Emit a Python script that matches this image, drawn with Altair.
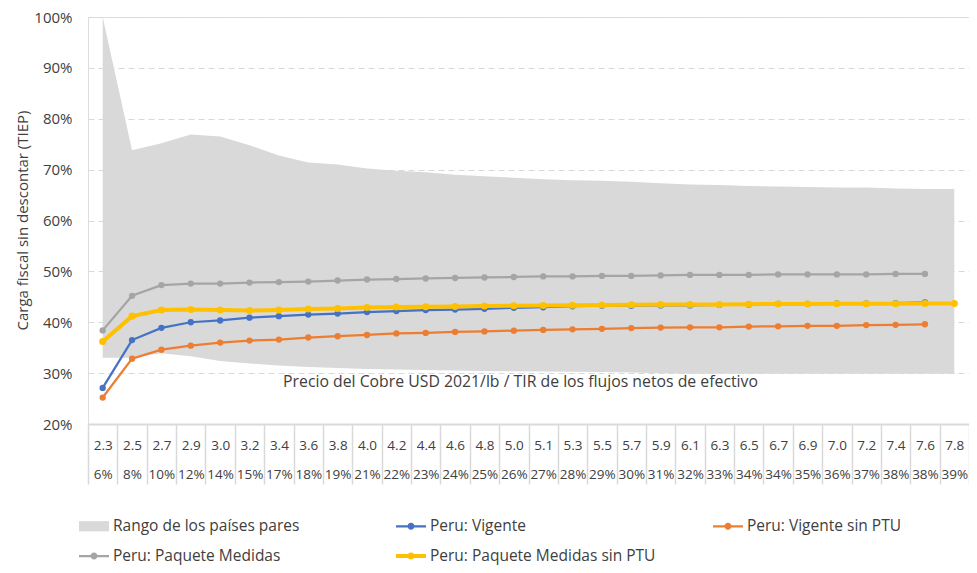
import altair as alt
import pandas as pd

# ---------------- data ----------------
precio = ["2.3", "2.5", "2.7", "2.9", "3.0", "3.2", "3.4", "3.6", "3.8", "4.0",
          "4.2", "4.4", "4.6", "4.8", "5.0", "5.1", "5.3", "5.5", "5.7", "5.9",
          "6.1", "6.3", "6.5", "6.7", "6.9", "7.0", "7.2", "7.4", "7.6", "7.8"]
tir = ["6%", "8%", "10%", "12%", "14%", "15%", "17%", "18%", "19%", "21%",
       "22%", "23%", "24%", "25%", "26%", "27%", "28%", "29%", "30%", "31%",
       "32%", "33%", "34%", "34%", "35%", "36%", "37%", "38%", "38%", "39%"]

rango_sup = [100.0, 73.8, 75.2, 76.9, 76.5, 74.8, 72.8, 71.4, 71.0, 70.2,
             69.8, 69.5, 69.0, 68.7, 68.4, 68.1, 67.9, 67.8, 67.6, 67.3,
             67.1, 67.0, 66.8, 66.7, 66.6, 66.5, 66.5, 66.3, 66.2, 66.2]
rango_inf = [33.0, 33.0, 33.9, 33.3, 32.4, 31.9, 31.5, 31.2, 31.0, 30.8,
             30.7, 30.6, 30.5, 30.4, 30.35, 30.3, 30.25, 30.2, 30.1, 30.0,
             29.9, 29.9, 29.9, 29.9, 29.9, 29.9, 29.9, 29.9, 29.9, 29.9]

vigente = [27.1, 36.5, 38.9, 40.0, 40.35, 40.9, 41.2, 41.5, 41.7, 42.0,
           42.2, 42.4, 42.5, 42.65, 42.85, 42.95, 43.15, 43.25, 43.25, 43.3,
           43.3, 43.4, 43.45, 43.6, 43.6, 43.7, 43.7, 43.75, 43.9, None]
vigente_sin_ptu = [25.2, 32.85, 34.6, 35.4, 36.0, 36.4, 36.6, 37.0, 37.25, 37.5,
                   37.8, 37.9, 38.1, 38.2, 38.35, 38.5, 38.6, 38.7, 38.85, 38.95,
                   39.0, 39.0, 39.15, 39.2, 39.3, 39.3, 39.45, 39.5, 39.6, None]
paquete = [38.4, 45.2, 47.3, 47.6, 47.6, 47.8, 47.9, 48.0, 48.2, 48.4,
           48.5, 48.6, 48.7, 48.8, 48.9, 49.0, 49.0, 49.1, 49.1, 49.2,
           49.3, 49.3, 49.3, 49.4, 49.4, 49.4, 49.4, 49.5, 49.5, None]
paquete_sin_ptu = [36.2, 41.2, 42.4, 42.5, 42.4, 42.3, 42.4, 42.6, 42.7, 42.9,
                   43.0, 43.05, 43.1, 43.2, 43.25, 43.3, 43.35, 43.4, 43.45, 43.5,
                   43.5, 43.5, 43.55, 43.6, 43.6, 43.65, 43.65, 43.65, 43.7, 43.7]

series_names = ["Rango de los países pares", "Peru: Vigente", "Peru: Vigente sin PTU",
                "Peru: Paquete Medidas", "Peru: Paquete Medidas sin PTU"]
colores = ["#d9d9d9", "#4472c4", "#ed7d31", "#a5a5a5", "#ffc000"]

# ---------------- tables ----------------
cats = [f"{p}|{t}" for p, t in zip(precio, tir)]

rango_df = pd.DataFrame({"cat": cats,
                         "sup": [v / 100 for v in rango_sup],
                         "inf": [v / 100 for v in rango_inf]})

def serie_df(name, vals):
    rows = [{"cat": c, "serie": name, "valor": v / 100} for c, v in zip(cats, vals) if v is not None]
    return pd.DataFrame(rows)

line_series = [
    ("Peru: Vigente", vigente, "#4472c4", 2.25, 40),
    ("Peru: Vigente sin PTU", vigente_sin_ptu, "#ed7d31", 2.25, 40),
    ("Peru: Paquete Medidas", paquete, "#a5a5a5", 2.25, 40),
    ("Peru: Paquete Medidas sin PTU", paquete_sin_ptu, "#ffc000", 4, 50),
]

legend_df = pd.DataFrame({"serie": series_names})

# ---------------- encodings ----------------
FONT = "Open Sans"
TXT = "#404040"

x_axis = alt.Axis(
    title="Precio del Cobre USD 2021/lb / TIR de los flujos netos de efectivo",
    titleX=432, titleY=-43, titleBaseline="middle", titleAlign="center",
    titleFontSize=15.8, titleFontWeight="normal", titleColor=TXT, titleFont=FONT,
    labelExpr="split(datum.label, '|')", labelAngle=0, labelBaseline="top",
    labelAlign="center", labelPadding=-46, labelLineHeight=29, labelFontSize=13.5,
    labelColor=TXT, labelFont=FONT, labelOverlap=False, labelFlush=False, labelBound=False,
    tickBand="extent", tickSize=60, tickColor="#d9d9d9", tickWidth=1.5,
    domainColor="#d9d9d9", domainWidth=2, grid=False,
)
x_enc = alt.X("cat:N", scale=alt.Scale(type="band", domain=cats, paddingInner=0, paddingOuter=0),
              axis=x_axis)

y_axis = alt.Axis(
    title="Carga fiscal sin descontar (TIEP)", titleX=-66, titleY=203,
    titleBaseline="middle", titleAlign="center", titleAngle=-90,
    titleFontSize=15, titleFontWeight="normal", titleColor=TXT, titleFont=FONT,
    format=".0%", values=[0.2, 0.3, 0.4, 0.5, 0.6, 0.7, 0.8, 0.9, 1.0],
    labelFontSize=15, labelColor=TXT, labelFont=FONT, labelPadding=16,
    ticks=False, domain=False, grid=True, gridColor="#d9d9d9", gridDash=[6, 4], gridWidth=1,
)
y_scale = alt.Scale(domain=[0.2, 1.0], nice=False, zero=False)

area = alt.Chart(rango_df).mark_area(color="#d9d9d9", opacity=1).encode(
    x=x_enc,
    y=alt.Y("sup:Q", scale=y_scale, axis=y_axis),
    y2="inf:Q",
)

layers = [area]
for name, vals, col, sw, sz in line_series:
    layers.append(
        alt.Chart(serie_df(name, vals)).mark_line(
            color=col, strokeWidth=sw,
            point=alt.OverlayMarkDef(filled=True, color=col, size=sz, opacity=1),
        ).encode(
            x=x_enc,
            y=alt.Y("valor:Q", scale=y_scale, axis=y_axis),
        )
    )

rect_path = "M-1,-0.34L1,-0.34L1,0.34L-1,0.34Z"
line_path = ("M-1,-0.075L1,-0.075L1,0.075L-1,0.075Z "
             "M-0.23,0A0.23,0.23 0 1,1 0.23,0A0.23,0.23 0 1,1 -0.23,0Z")
thick_path = ("M-1,-0.135L1,-0.135L1,0.135L-1,0.135Z "
              "M-0.24,0A0.24,0.24 0 1,1 0.24,0A0.24,0.24 0 1,1 -0.24,0Z")
shapes = [rect_path, line_path, line_path, line_path, thick_path]

legend = alt.Legend(
    title=None, orient="none", legendX=-9, legendY=494, columns=3, direction="horizontal",
    gridAlign="all", columnPadding=57, rowPadding=6, padding=0,
    labelFontSize=15.5, labelFont=FONT, labelColor=TXT, labelOffset=4, labelLimit=400,
    symbolSize=900, symbolOpacity=1, symbolStrokeWidth=0, symbolOffset=0,
)
legend_layer = alt.Chart(legend_df).mark_point(filled=True, opacity=0, size=900).encode(
    color=alt.Color("serie:N", scale=alt.Scale(domain=series_names, range=colores), legend=legend),
    shape=alt.Shape("serie:N", scale=alt.Scale(domain=series_names, range=shapes), legend=legend),
)
layers.append(legend_layer)

chart = alt.layer(*layers).properties(
    width=881, height=407,
    autosize=alt.AutoSizeParams(type="none"),
    padding={"left": 80, "top": 9, "right": 0, "bottom": 141},
    background="white",
).configure_view(stroke=None).configure(font=FONT)

chart.save("out.html", embed_options={"renderer": "svg", "actions": False})
